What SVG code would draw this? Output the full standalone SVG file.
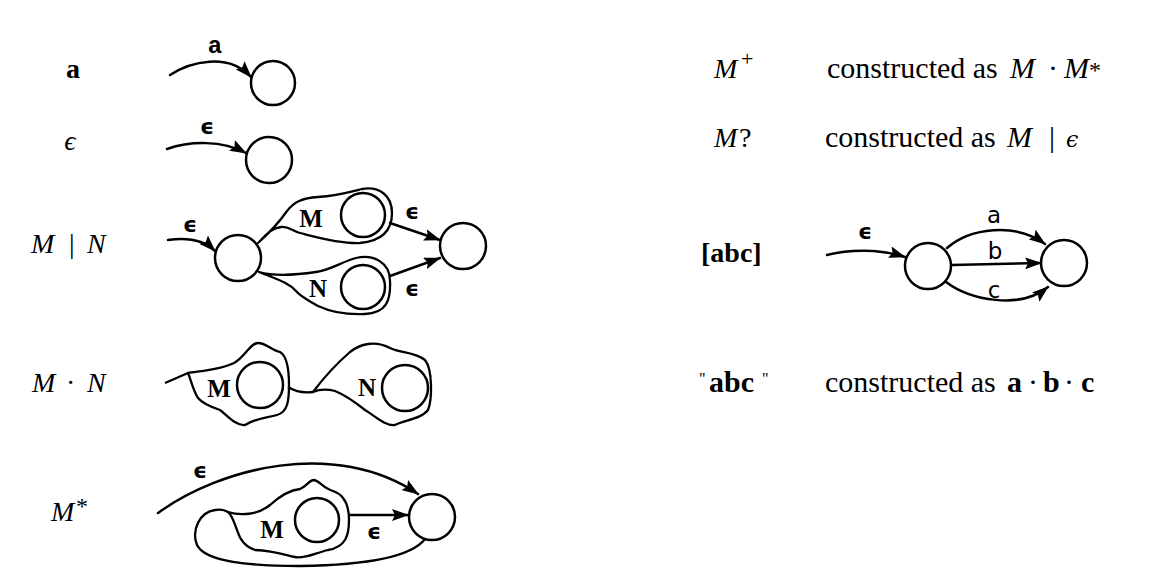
<svg xmlns="http://www.w3.org/2000/svg" width="1171" height="573" viewBox="0 0 1171 573">
<style>
.st{fill:none;stroke:#000;stroke-width:2.5;stroke-linecap:round;stroke-linejoin:round}
.bl{fill:none;stroke:#000;stroke-width:2.3;stroke-linejoin:round}
.t{font-family:"Liberation Serif","DejaVu Serif",serif;font-size:28px;fill:#000}
.r{font-size:30px}
.it{font-style:italic}
.bd{font-weight:bold}
.eps{font-family:"DejaVu Sans","DejaVu Serif",sans-serif;font-weight:bold;font-size:22px;fill:#000;text-anchor:middle}
.lab{font-family:"DejaVu Sans",sans-serif;font-size:23px;fill:#000;text-anchor:middle}
.ml{font-family:"Liberation Serif",serif;font-weight:bold;font-size:25px;fill:#000;text-anchor:middle}
</style>
<defs>
<marker id="ah" viewBox="0 0 17 12" refX="16" refY="6" markerWidth="17" markerHeight="12" markerUnits="userSpaceOnUse" orient="auto">
<path d="M0,0 L17,6 L0,12 L3,6 Z" fill="#000"/>
</marker>
</defs>
<rect width="1171" height="573" fill="#fff"/>

<!-- left labels -->
<g id="labels-left">
<text class="t bd" x="73" y="78" text-anchor="middle" font-size="29">a</text>
<text class="t it" x="70" y="150" text-anchor="middle" font-family="DejaVu Serif" font-size="24">ϵ</text>
<text class="t"><tspan class="it" x="31" y="253">M</tspan><tspan x="69" y="253">|</tspan><tspan class="it" x="87" y="253">N</tspan></text>
<text class="t"><tspan class="it" x="32" y="392">M</tspan><tspan x="66" y="392">·</tspan><tspan class="it" x="87" y="392">N</tspan></text>
<text class="t"><tspan class="it" x="51" y="521">M</tspan><tspan x="76" y="514" font-size="24">*</tspan></text>
</g>

<!-- right labels -->
<g id="labels-right">
<text class="t"><tspan class="it" x="714" y="78">M</tspan><tspan x="741" y="66" font-size="22">+</tspan></text>
<text class="t r"><tspan x="827" y="78">constructed as</tspan><tspan class="it" x="1010" y="78">M</tspan><tspan x="1048" y="78">·</tspan><tspan class="it" x="1064" y="78">M</tspan><tspan x="1089" y="78" font-size="24">*</tspan></text>
<text class="t"><tspan class="it" x="714" y="147">M</tspan><tspan x="739" y="147">?</tspan></text>
<text class="t r"><tspan x="825" y="147">constructed as</tspan><tspan class="it" x="1007" y="147">M</tspan><tspan x="1049" y="147">|</tspan><tspan x="1066" y="147" font-family="DejaVu Serif" font-size="22" font-style="italic">ϵ</tspan></text>
<text class="t bd" x="701" y="262" font-size="29">[abc]</text>
<text class="t"><tspan x="699" y="384" font-size="16">"</tspan><tspan class="bd" x="709" y="392" font-size="30">abc</tspan><tspan x="762" y="384" font-size="16">"</tspan></text>
<text class="t r"><tspan x="825" y="392">constructed as</tspan><tspan class="bd" x="1007" y="392">a</tspan><tspan x="1028" y="392">·</tspan><tspan class="bd" x="1043" y="392">b</tspan><tspan x="1064" y="392">·</tspan><tspan class="bd" x="1081" y="392">c</tspan></text>
</g>

<!-- row a -->
<g id="node-a"><circle class="st" cx="273" cy="83" r="22"/></g>
<!-- row epsilon -->
<g id="node-eps"><circle class="st" cx="269" cy="160" r="23"/></g>

<!-- M|N -->
<g id="alt-start"><circle class="st" cx="238" cy="258" r="23"/></g>
<g id="alt-M">
<path class="bl" d="M258,243 C268,234 278,224 287,211 C294,202 302,198 318,197 C335,196 346,193 362,189 C380,186 392,196 392,213 C392,231 382,241 360,243 C340,244 316,237 300,233 C292,231 289,226 281,227 C271,228 265,236 258,243 Z"/>
<circle class="st" cx="363" cy="215" r="22"/>
<text class="ml" x="311" y="227">M</text>
</g>
<g id="alt-N">
<path class="bl" d="M259,272 C273,276 296,275 316,272 C331,270 341,262 356,258 C373,254 390,262 390,281 C391,301 386,313 365,314 C345,315 331,312 318,306 C308,300 301,297 296,291 C289,283 279,280 259,272 Z"/>
<circle class="st" cx="363" cy="287" r="22"/>
<text class="ml" x="318" y="297">N</text>
</g>
<g id="alt-end"><circle class="st" cx="463" cy="246" r="23"/></g>

<!-- M.N -->
<g id="cat-M">
<path class="bl" d="M188,373 C200,371 220,370 234,363 C245,357 250,343 258,343 C266,343 271,350 280,352 C287,356 289,370 289,385 C289,400 288,412 277,415 C266,418 256,418 245,425 C236,426 228,416 220,410 C211,407 203,404 198,398 C193,390 191,380 188,373 Z"/>
<circle class="st" cx="260" cy="385" r="23"/>
<text class="ml" x="219" y="397">M</text>
</g>
<g id="cat-N">
<path class="bl" d="M313,392 C322,380 335,365 350,352 C360,344 375,340 390,348 C400,353 415,352 425,360 C433,370 432,400 428,410 C421,419 405,420 395,425 C385,426 375,416 365,410 C355,402 345,395 335,391 C327,389 320,389 313,392 Z"/>
<circle class="st" cx="405" cy="388" r="23"/>
<text class="ml" x="367" y="396">N</text>
</g>

<!-- M* -->
<g id="star-M">
<path class="bl" d="M228,512 C240,516 258,515 270,505 C280,496 290,490 300,489 C306,487 309,480 314,480 C320,481 323,488 333,491 C345,495 349,505 349,520 C349,535 346,547 328,550 C315,553 305,559 295,557 C285,555 275,551 255,550 C245,547 240,540 237,530 C234,522 232,515 228,512 Z"/>
<circle class="st" cx="317" cy="520" r="22"/>
<text class="ml" x="272" y="538">M</text>
</g>
<g id="star-end"><circle class="st" cx="432" cy="517" r="23"/></g>

<!-- [abc] -->
<g id="cls-start"><circle class="st" cx="928" cy="266" r="23"/></g>
<g id="cls-end"><circle class="st" cx="1064" cy="263" r="23"/></g>

<g id="connectors">
<path class="st" d="M170,75 C190,62 228,52 251,77" marker-end="url(#ah)"/>
<path class="st" d="M167,149 C190,141 222,140 246,153" marker-end="url(#ah)"/>
<path class="st" d="M168,240 C190,237 205,241 215,251" marker-end="url(#ah)"/>
<path class="st" d="M390,223 L440,240" marker-end="url(#ah)"/>
<path class="st" d="M390,276 L440,258" marker-end="url(#ah)"/>
<path class="bl" d="M165,383 L188,373"/>
<path class="bl" d="M288,387 C296,392 305,393 313,392"/>
<path class="st" d="M158,513 C220,468 335,438 418,494" marker-end="url(#ah)"/>
<path class="st" d="M350,515 L408,515" marker-end="url(#ah)"/>
<path class="bl" d="M425,539 C412,556 370,565 300,566 C250,566 205,562 197,545 C191,530 200,512 215,510 C220,509 225,510 228,512"/>
<path class="st" d="M827,255 C850,249 880,249 905,257" marker-end="url(#ah)"/>
<path class="st" d="M947,248 C970,228 1015,222 1045,244" marker-end="url(#ah)"/>
<path class="st" d="M952,265 L1041,263" marker-end="url(#ah)"/>
<path class="st" d="M946,282 C970,300 1020,310 1048,287" marker-end="url(#ah)"/>
</g>

<g id="connector-labels">
<text x="215" y="53" font-family="Liberation Mono" font-weight="bold" font-size="24" text-anchor="middle">a</text>
<text class="eps" x="207" y="134">ϵ</text>
<text class="eps" x="190" y="232">ϵ</text>
<text class="eps" x="412" y="219">ϵ</text>
<text class="eps" x="412" y="296">ϵ</text>
<text class="eps" x="200" y="478">ϵ</text>
<text class="eps" x="374" y="539">ϵ</text>
<text class="eps" x="865" y="239">ϵ</text>
<text class="lab" x="994" y="223">a</text>
<text class="lab" x="995" y="259">b</text>
<text class="lab" x="994" y="298">c</text>
</g>
</svg>
